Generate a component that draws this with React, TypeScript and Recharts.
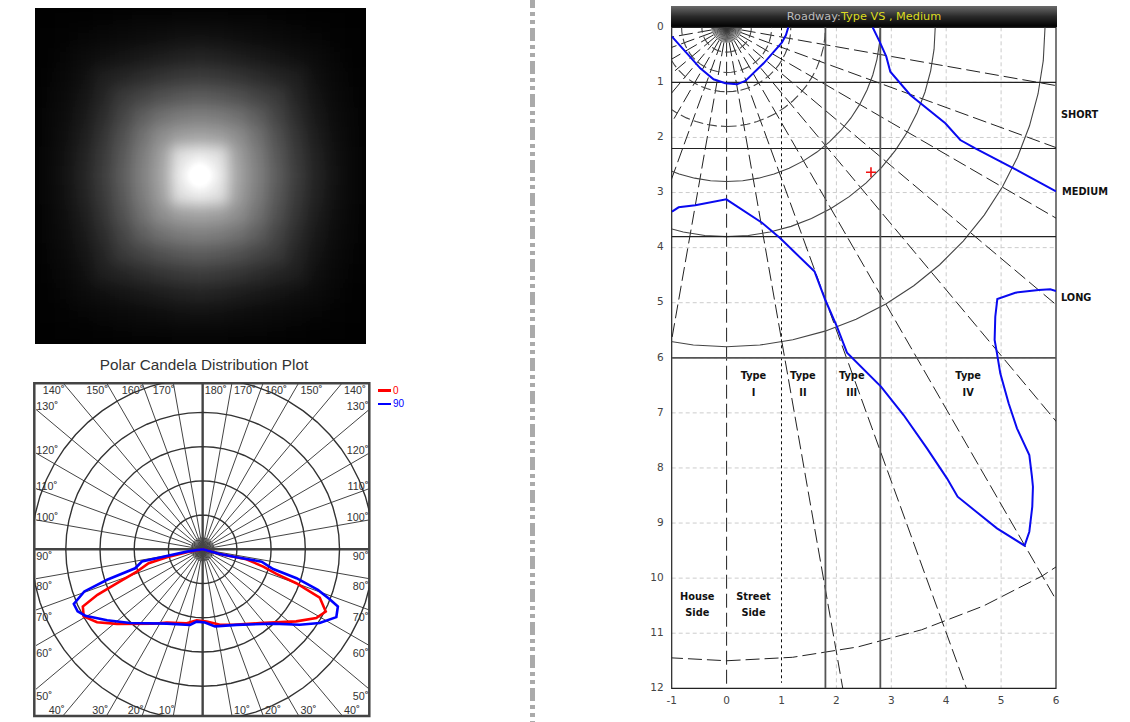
import React from 'react'
import {
  ScatterChart,
  Scatter,
  XAxis,
  YAxis,
  CartesianGrid,
  ReferenceArea,
  ReferenceDot,
  Legend,
} from 'recharts'

// luminance image on a coarse grid (the blur smooths it)
const brightness = [
  [1, 2, 2, 3, 4, 5, 5, 6, 6, 6, 5, 5, 4, 3, 2, 2, 1],
  [2, 3, 5, 7, 9, 11, 13, 15, 16, 15, 13, 11, 9, 7, 5, 3, 2],
  [2, 5, 10, 14, 18, 22, 26, 30, 32, 30, 26, 22, 18, 14, 10, 5, 2],
  [3, 7, 14, 27, 33, 40, 47, 52, 55, 52, 47, 40, 33, 27, 14, 7, 3],
  [4, 9, 18, 33, 52, 62, 73, 80, 84, 80, 73, 62, 52, 33, 18, 9, 4],
  [5, 11, 22, 40, 62, 85, 102, 112, 116, 112, 102, 85, 62, 40, 22, 11, 5],
  [5, 13, 26, 47, 73, 102, 128, 143, 148, 143, 128, 102, 73, 47, 26, 13, 5],
  [6, 15, 30, 52, 80, 112, 143, 205, 215, 205, 143, 112, 80, 52, 30, 15, 6],
  [6, 16, 32, 55, 84, 116, 148, 215, 255, 215, 148, 116, 84, 55, 32, 16, 6],
  [6, 15, 30, 52, 80, 112, 143, 205, 215, 205, 143, 112, 80, 52, 30, 15, 6],
  [5, 13, 26, 47, 73, 102, 128, 143, 148, 143, 128, 102, 73, 47, 26, 13, 5],
  [5, 11, 22, 40, 62, 85, 102, 112, 116, 112, 102, 85, 62, 40, 22, 11, 5],
  [4, 9, 18, 33, 52, 62, 73, 80, 84, 80, 73, 62, 52, 33, 18, 9, 4],
  [3, 7, 14, 27, 33, 40, 47, 52, 55, 52, 47, 40, 33, 27, 14, 7, 3],
  [2, 5, 10, 14, 18, 22, 26, 30, 32, 30, 26, 22, 18, 14, 10, 5, 2],
  [2, 3, 5, 7, 9, 11, 13, 15, 16, 15, 13, 11, 9, 7, 5, 3, 2],
  [1, 2, 2, 3, 4, 5, 5, 6, 6, 6, 5, 5, 4, 3, 2, 2, 1],
]

// polar plot: [angle from nadir, candela in ring units]
const candela0 = [
  [90, 0], [74.9, 0.52], [77.2, 1.31], [74.1, 1.84], [71.6, 2.27], [70.1, 2.91], [67.6, 3.7],
  [63.2, 4.03], [58.8, 3.88], [52.4, 3.45], [37.8, 2.73], [22.1, 2.38], [12.9, 2.26], [3.2, 2.11],
  [-4.8, 2.08], [-12.2, 2.21], [-26.1, 2.38], [-33.5, 2.61], [-49, 3.32], [-55.4, 3.75], [-60.6, 3.99],
  [-64.5, 3.88], [-66.6, 3.35], [-68.4, 2.69], [-71.3, 2.03], [-75.5, 1.63], [-77.5, 1.07], [-79.4, 0.47],
  [-90, 0],
]
const candela90 = [
  [90, 0], [74.9, 0.52], [76.8, 1.02], [78.2, 1.76], [74.4, 2.14], [72.9, 2.87], [70.6, 3.57], [68.6, 3.98],
  [67.1, 4.29], [63.1, 4.38], [57.8, 4.04], [52.1, 3.59], [43.4, 2.99], [24.1, 2.42], [9.1, 2.28], [1.8, 2.14],
  [-4.7, 2.12], [-9.5, 2.24], [-25.7, 2.41], [-44.5, 3.02], [-53.4, 3.48], [-60.5, 3.94], [-63.6, 4.08],
  [-67, 4.09], [-70.4, 3.67], [-72.3, 2.93], [-74.3, 2.05], [-78.6, 1.81], [-79.4, 1.17], [-81.7, 0.47],
  [-90, 0],
]
const polarSeries = [
  { name: '0', color: '#ff0000', values: candela0 },
  { name: '90', color: '#0000ff', values: candela90 },
]
const polarRings = [1, 2, 3, 4, 5]
const polarSpokes = [0, 10, 20, 30, 40, 50, 60, 70, 80, 100, 110, 120, 130, 140, 150, 160, 170]
const polarHub = [5, 15, 25, 35, 45, 55, 65, 75, 85, 95, 105, 115, 125, 135, 145, 155, 165, 175]
const topLeftDegrees = [140, 150, 160, 170]
const topRightDegrees = [180, 170, 160, 150, 140]
const bottomDegrees = [10, 20, 30, 40]
const sideUpperDegrees = [100, 110, 120, 130]
const sideLowerDegrees = [50, 60, 70, 80, 90]

// roadway plot, in mounting heights
const yTicks = [0, 1, 2, 3, 4, 5, 6, 7, 8, 9, 10, 11, 12]
const xTicks = [-1, 0, 1, 2, 3, 4, 5, 6]
const gridX = [2, 3, 4, 5]
const gridY = [1, 2, 3, 4, 5, 6, 7, 8, 9, 10, 11]
const shortLines = [1, 2.2, 3.8]
const widthLines = [1.8, 2.8]
const dashedRings = [0.45, 0.82, 1.17, 1.8]
const solidRings = [2.8, 3.8, 5.8]
const farRing = 11.5
const fanAngles = [-85, -75, -65, -55, -45, -35, -25, -15, -5, 5, 15, 25, 35, 45, 55, 65, 75, 85]
const rayAngles = [-80, -70, -60, -50, -40, -30, -20, -10, 0, 10, 20, 30, 40, 50, 60, 70, 80]
const isoInner = [
  [-0.995, 0.17], [-0.722, 0.472], [-0.479, 0.745], [-0.237, 0.944], [-0.024, 1.017], [0.189, 1.035],
  [0.341, 0.975], [0.674, 0.654], [1.009, 0.273], [1.081, 0.14], [1.124, 0],
]
const isoUpper = [
  [2.66, 0], [2.787, 0.261], [2.909, 0.533], [2.982, 0.806], [3.346, 1.229], [3.984, 1.743], [4.257, 2.046],
  [4.53, 2.197], [5.228, 2.56], [6, 2.978],
]
const isoOuter = [
  [-0.995, 3.347], [-0.874, 3.268], [-0.57, 3.232], [-0.005, 3.123], [0.644, 3.547], [0.978, 3.83], [1.603, 4.436],
  [1.798, 4.951], [2.01, 5.435], [2.193, 5.907], [2.812, 6.524], [3.224, 7.039], [3.65, 7.644], [4.014, 8.188],
  [4.208, 8.521], [4.469, 8.733], [4.925, 9.096], [5.428, 9.411], [5.514, 9.157], [5.568, 8.703], [5.58, 8.34],
  [5.562, 8.158], [5.514, 7.765], [5.289, 7.28], [5.137, 6.826], [4.985, 6.282], [4.925, 5.919], [4.882, 5.677],
  [4.894, 5.254], [4.931, 4.933], [5.259, 4.818], [5.683, 4.769], [5.896, 4.757], [6, 4.788],
]
const maxCandelaPoint = { x: 2.63, y: 2.632 }
const roadLabels = [
  { text: 'Type', x: 0.49, y: 6.325 }, { text: 'I', x: 0.49, y: 6.627 },
  { text: 'Type', x: 1.39, y: 6.325 }, { text: 'II', x: 1.39, y: 6.627 },
  { text: 'Type', x: 2.28, y: 6.325 }, { text: 'III', x: 2.28, y: 6.627 },
  { text: 'Type', x: 4.4, y: 6.325 }, { text: 'IV', x: 4.4, y: 6.627 },
  { text: 'House', x: -0.534, y: 10.325 }, { text: 'Side', x: -0.534, y: 10.63 },
  { text: 'Street', x: 0.49, y: 10.325 }, { text: 'Side', x: 0.49, y: 10.63 },
]
const sideLabels = [
  { text: 'SHORT', x: 6.09, y: 1.59 },
  { text: 'MEDIUM', x: 6.11, y: 2.99 },
  { text: 'LONG', x: 6.09, y: 4.9 },
]

const RAD = Math.PI / 180
const arcSweep = Array.from({ length: 61 }, (_, i) => i * 6)
const noShape = () => null
const curve = (key: string, data: { x: number; y: number }[], style: object) => (
  <Scatter
    key={key}
    data={data}
    line={style}
    lineType="joint"
    shape={noShape}
    legendType="none"
    isAnimationActive={false}
  />
)
const circle = (r: number) =>
  arcSweep.map((a) => ({ x: r * Math.sin(a * RAD), y: r * Math.cos(a * RAD) }))
const fromNadir = (angle: number, r: number) => ({
  x: r * Math.sin(angle * RAD),
  y: r * Math.cos(angle * RAD),
})

const XMIN = -4.92
const XMAX = 4.87
const YMAX = 4.85
const YMIN = -4.87

function Heatmap() {
  const cells = brightness.flatMap((row, r) => row.map((v, c) => ({ x: c, y: r, v })))
  return (
    <div style={{ position: 'absolute', left: 35, top: 8, width: 331, height: 336, overflow: 'hidden', background: '#000' }}>
      <div style={{ filter: 'blur(7px) brightness(1.1)' }}>
        <ScatterChart width={331} height={336} margin={{ top: 0, right: 0, bottom: 0, left: 0 }}>
          <XAxis type="number" dataKey="x" domain={[-0.5, 16.5]} hide />
          <YAxis type="number" dataKey="y" domain={[-0.5, 16.5]} reversed hide />
          <Scatter
            data={cells}
            isAnimationActive={false}
            shape={(p: any) => (
              <rect
                x={p.cx - 10.5}
                y={p.cy - 10.5}
                width={21}
                height={21}
                fill={`rgb(${p.payload.v},${p.payload.v},${p.payload.v})`}
              />
            )}
          />
        </ScatterChart>
      </div>
    </div>
  )
}

function degreeLabel(key: string, label: number, x: number, y: number, anchor: string, dx: number, dy: number) {
  return (
    <ReferenceDot
      key={key}
      x={x}
      y={y}
      r={0}
      ifOverflow="visible"
      shape={(p: any) => (
        <text x={p.cx + dx} y={p.cy + dy} textAnchor={anchor as any} fontFamily="Liberation Sans" fontSize={10.8} fill="#333">
          {label}
          <tspan dy={-3} fontSize={9} fontWeight="bold">°</tspan>
        </text>
      )}
    />
  )
}

function PolarPlot() {
  const spokeEnd = (deg: number) => {
    const a = deg * RAD
    const s = Math.sin(a)
    const c = Math.cos(a)
    const t = Math.min(XMAX / Math.abs(s || 1e-6), YMAX / Math.abs(c || 1e-6))
    return { x: t * s, y: t * c }
  }
  return (
    <div style={{ position: 'absolute', left: 0, top: 350 }}>
      <ScatterChart width={420} height={372} margin={{ top: 33.3, right: 50.7, bottom: 6, left: 34.3 }}>
        <XAxis type="number" dataKey="x" domain={[XMIN, XMAX]} allowDataOverflow hide />
        <YAxis type="number" dataKey="y" domain={[YMIN, YMAX]} allowDataOverflow hide />
        <Legend
          layout="vertical"
          align="center"
          verticalAlign="middle"
          wrapperStyle={{ left: 378, top: 34, width: 42 }}
          content={() => (
            <div>
              {polarSeries.map((s) => (
                <div key={s.name} style={{ display: 'flex', alignItems: 'center', height: 13.3, fontFamily: 'Liberation Sans', fontSize: 10, color: s.color }}>
                  <span style={{ display: 'inline-block', width: 13, height: 2.5, background: s.color, marginRight: 2 }} />
                  {s.name}
                </div>
              ))}
            </div>
          )}
        />
        {polarSpokes.map((deg) => {
          const end = spokeEnd(deg)
          return curve(`spoke-${deg}`, [{ x: -end.x, y: -end.y }, { x: end.x, y: end.y }], {
            stroke: '#444',
            strokeWidth: deg === 0 ? 2.4 : 1,
          })
        })}
        {polarHub.map((deg) => {
          const p = fromNadir(deg, 0.35)
          return curve(`hub-${deg}`, [{ x: -p.x, y: -p.y }, p], { stroke: '#444', strokeWidth: 1 })
        })}
        {curve('spoke-90', [{ x: XMIN, y: 0 }, { x: XMAX, y: 0 }], { stroke: '#444', strokeWidth: 2.4 })}
        {polarRings.map((r) => curve(`ring-${r}`, circle(r), { stroke: '#333', strokeWidth: 1.4 }))}
        {polarSeries.map((s) =>
          curve(
            `series-${s.name}`,
            s.values.map(([a, v]) => ({ x: v * Math.sin(a * RAD), y: -v * Math.cos(a * RAD) })),
            { stroke: s.color, strokeWidth: 2.6 },
          ),
        )}
        <ReferenceArea x1={XMIN} x2={XMAX} y1={YMIN} y2={YMAX} fill="none" stroke="#444" strokeWidth={2.5} ifOverflow="visible" />
        {topLeftDegrees.map((d) => degreeLabel(`tl-${d}`, d, -YMAX * Math.tan((180 - d) * RAD), YMAX, 'end', 1, 11))}
        {topRightDegrees.map((d) => degreeLabel(`tr-${d}`, d, YMAX * Math.tan((180 - d) * RAD), YMAX, 'start', 2, 11))}
        {bottomDegrees.map((d) => degreeLabel(`bl-${d}`, d, -YMAX * Math.tan(d * RAD), YMIN, 'end', 1, -2))}
        {bottomDegrees.map((d) => degreeLabel(`br-${d}`, d, YMAX * Math.tan(d * RAD), YMIN, 'start', 2, -2))}
        {sideUpperDegrees.map((d) => degreeLabel(`ul-${d}`, d, XMIN, -XMAX * Math.cos(d * RAD) / Math.sin(d * RAD), 'start', 2, 1))}
        {sideUpperDegrees.map((d) => degreeLabel(`ur-${d}`, d, XMAX, -XMAX * Math.cos(d * RAD) / Math.sin(d * RAD), 'end', -1, 1))}
        {sideLowerDegrees.map((d) => degreeLabel(`ll-${d}`, d, XMIN, -XMAX * Math.cos(d * RAD) / Math.sin(d * RAD), 'start', 2, 11))}
        {sideLowerDegrees.map((d) => degreeLabel(`lr-${d}`, d, XMAX, -XMAX * Math.cos(d * RAD) / Math.sin(d * RAD), 'end', -1, 11))}
      </ScatterChart>
    </div>
  )
}

const toPoints = (rows: number[][]) => rows.map(([x, y]) => ({ x, y }))

function textMark(key: string, text: string, x: number, y: number, anchor: string) {
  return (
    <ReferenceDot
      key={key}
      x={x}
      y={y}
      r={0}
      ifOverflow="visible"
      shape={(p: any) => (
        <text x={p.cx} y={p.cy + 3.5} textAnchor={anchor as any} fontFamily="DejaVu Sans" fontWeight="bold" fontSize={9.8} fill="#111">
          {text}
        </text>
      )}
    />
  )
}

function RoadwayPlot() {
  return (
    <div style={{ position: 'absolute', left: 640, top: 0 }}>
      <ScatterChart width={490} height={722} margin={{ top: 27.3, right: 74, bottom: 3.7, left: 1.7 }}>
        <CartesianGrid stroke="#ccc" strokeDasharray="4 3" horizontalValues={gridY} verticalValues={gridX} />
        <XAxis
          type="number"
          dataKey="x"
          domain={[-1, 6]}
          ticks={xTicks}
          interval={0}
          allowDataOverflow
          height={30}
          axisLine={false}
          tickLine={false}
          tick={{ fontFamily: 'DejaVu Sans', fontSize: 10.5, fill: '#444' }}
        />
        <YAxis
          type="number"
          dataKey="y"
          domain={[0, 12]}
          ticks={yTicks}
          interval={0}
          reversed
          allowDataOverflow
          width={30}
          axisLine={false}
          tickLine={false}
          tick={{ fontFamily: 'DejaVu Sans', fontSize: 10.5, fill: '#444', dy: -1 }}
        />
        {fanAngles.concat(rayAngles).map((a, i) =>
          curve(`fan-${i}`, [fromNadir(0, 0), fromNadir(a, 0.28)], { stroke: '#333', strokeWidth: 0.8 }),
        )}
        {rayAngles.map((a) =>
          curve(`ray-${a}`, [fromNadir(a, 0.28), fromNadir(a, 16)], { stroke: '#222', strokeWidth: 1, strokeDasharray: '14 5' }),
        )}
        {dashedRings.map((r) => curve(`dring-${r}`, circle(r), { stroke: '#444', strokeWidth: 1.1, strokeDasharray: '10 4' }))}
        {solidRings.map((r) => curve(`sring-${r}`, circle(r), { stroke: '#444', strokeWidth: 1.1 }))}
        {curve('far-ring', circle(farRing), { stroke: '#222', strokeWidth: 1, strokeDasharray: '14 5' })}
        {curve('street-line', [{ x: 1, y: 0 }, { x: 1, y: 11.9 }], { stroke: '#111', strokeWidth: 1, strokeDasharray: '3 3' })}
        {shortLines.map((y) => curve(`h-${y}`, [{ x: -1, y }, { x: 6, y }], { stroke: '#222', strokeWidth: 1.1 }))}
        {curve('h-6', [{ x: -1, y: 6 }, { x: 6, y: 6 }], { stroke: '#555', strokeWidth: 1.8 })}
        {widthLines.map((x) => curve(`v-${x}`, [{ x, y: 0 }, { x, y: 12 }], { stroke: '#555', strokeWidth: 1.8 }))}
        {curve('iso-inner', toPoints(isoInner), { stroke: '#0a0af0', strokeWidth: 2 })}
        {curve('iso-upper', toPoints(isoUpper), { stroke: '#0a0af0', strokeWidth: 2 })}
        {curve('iso-outer', toPoints(isoOuter), { stroke: '#0a0af0', strokeWidth: 2 })}
        <ReferenceArea x1={-1} x2={6} y1={0} y2={12} fill="none" stroke="#222" strokeWidth={1.2} ifOverflow="visible" />
        <ReferenceDot
          x={maxCandelaPoint.x}
          y={maxCandelaPoint.y}
          r={0}
          ifOverflow="visible"
          shape={(p: any) => (
            <path d={`M${p.cx - 5} ${p.cy}H${p.cx + 5}M${p.cx} ${p.cy - 5}V${p.cy + 5}`} stroke="#f01010" strokeWidth={1.6} fill="none" />
          )}
        />
        {roadLabels.map((l, i) => textMark(`road-${i}`, l.text, l.x, l.y, 'middle'))}
        {sideLabels.map((l) => textMark(`side-${l.text}`, l.text, l.x, l.y, 'start'))}
      </ScatterChart>
    </div>
  )
}

export default function App() {
  return (
    <div style={{ position: 'absolute', left: 0, top: 0, width: 1130, height: 722, background: '#fff', overflow: 'hidden' }}>
      <Heatmap />
      <div style={{ position: 'absolute', left: 34, top: 356, width: 340, textAlign: 'center', fontFamily: 'Liberation Sans', fontSize: 15.3, color: '#333' }}>
        Polar Candela Distribution Plot
      </div>
      <PolarPlot />
      <div
        style={{
          position: 'absolute',
          left: 530,
          top: -5,
          width: 5,
          height: 730,
          background:
            'repeating-linear-gradient(to bottom, #aaa 0, #aaa 13px, #fff 13px, #fff 17px, #aaa 17px, #aaa 21px, #fff 21px, #fff 25px, #aaa 25px, #aaa 29px, #fff 29px, #fff 33px)',
        }}
      />
      <div
        style={{
          position: 'absolute',
          left: 671,
          top: 6,
          width: 386,
          height: 21,
          background: 'linear-gradient(to bottom, #6a6a6a 0%, #2a2a2a 50%, #000 100%)',
          textAlign: 'center',
          fontFamily: 'DejaVu Sans',
          fontSize: 11.3,
          lineHeight: '21px',
          color: '#bbb',
        }}
      >
        Roadway:<span style={{ color: '#dcdc20' }}>Type VS , Medium</span>
      </div>
      <RoadwayPlot />
    </div>
  )
}
